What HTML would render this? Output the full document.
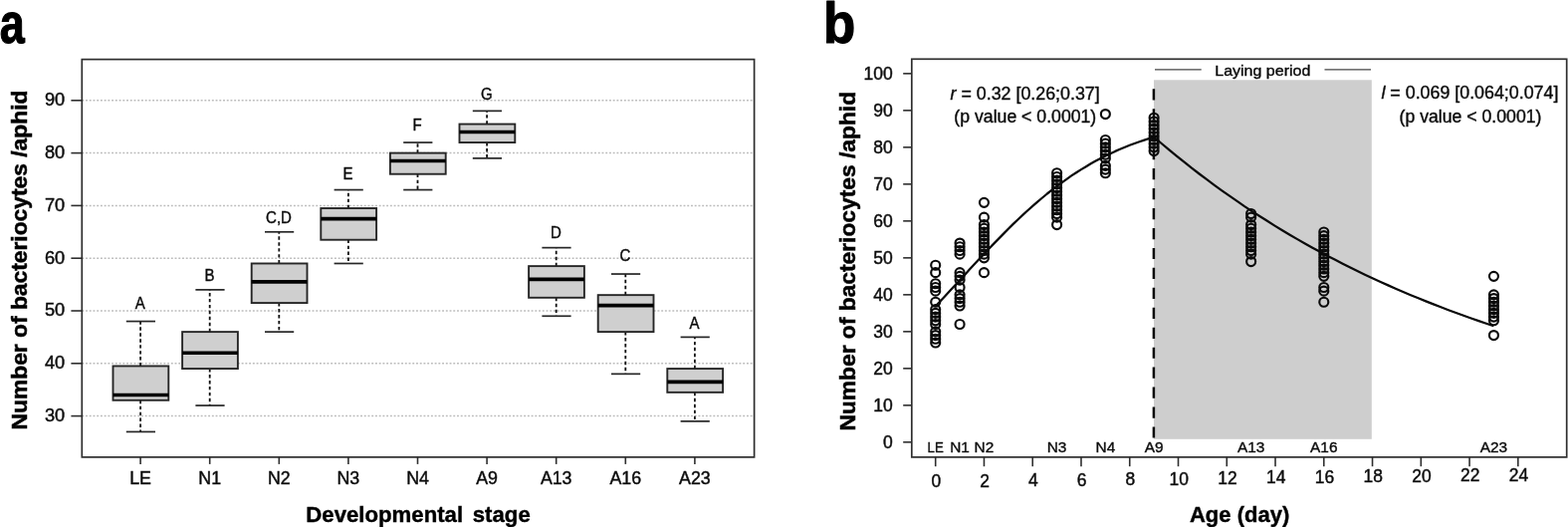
<!DOCTYPE html>
<html lang="en">
<head>
<meta charset="utf-8">
<title>Number of bacteriocytes per aphid</title>
<style>
html,body{margin:0;padding:0;background:#fff;}
body{width:1575px;height:529px;overflow:hidden;}
svg{display:block;filter:blur(0.4px);font-family:"Liberation Sans","DejaVu Sans",sans-serif;}
text{fill:#0a0a0a;}
.pl{font-weight:bold;fill:#000;stroke:#000;stroke-width:1.2px;stroke-linejoin:round;}
.pa{font-size:57.5px;}
.pb{font-size:58px;}
.grid{stroke:#bcbcbc;stroke-width:1.5;stroke-dasharray:1.9 1.83;}
.wh{stroke:#111;stroke-width:1.8;stroke-dasharray:3.4 2.55;}
.cap{stroke:#262626;stroke-width:1.7;}
.bx{fill:#cfcfcf;stroke:#262626;stroke-width:1.9;}
.med{stroke:#000;stroke-width:3.7;}
.fr{fill:none;stroke:#2e2e2e;stroke-width:1.7;}
.tk{stroke:#2e2e2e;stroke-width:1.6;}
.yl{font-size:17.5px;stroke:#111;stroke-width:0.45px;}
.xl{font-size:17.8px;stroke:#111;stroke-width:0.45px;}
.sl{font-size:15.4px;stroke:#111;stroke-width:0.4px;}
.lt{font-size:16px;stroke:#111;stroke-width:0.4px;}
.an{font-size:17.5px;stroke:#111;stroke-width:0.4px;}
.ti{font-size:22.2px;font-weight:bold;fill:#000;word-spacing:3.5px;stroke:#000;stroke-width:0.4px;}
.tb{font-size:21.8px;font-weight:bold;fill:#000;stroke:#000;stroke-width:0.4px;}
.tv{font-size:22.9px;font-weight:bold;fill:#000;stroke:#000;stroke-width:0.5px;}
.pt{fill:none;stroke:#0a0a0a;stroke-width:2.15;}
.cv{fill:none;stroke:#0a0a0a;stroke-width:2.25;stroke-linejoin:round;}
.dl{stroke:#0a0a0a;stroke-width:2.5;stroke-dasharray:11.2 8.75;}
.ln{stroke:#444;stroke-width:1.3;}
</style>
</head>
<body>
<svg width="1575" height="529" viewBox="0 0 1575 529" role="img" aria-label="Number of bacteriocytes per aphid across developmental stages">
<rect x="0" y="0" width="1575" height="529" fill="#fff"/>
<g id="panel-a">
<text class="pl pa" transform="translate(-0.2,43.2) scale(0.78,1)" text-anchor="start">a</text>
<line class="grid" x1="82.3" y1="417.6" x2="757.6" y2="417.6"/>
<line class="grid" x1="82.3" y1="364.8" x2="757.6" y2="364.8"/>
<line class="grid" x1="82.3" y1="312" x2="757.6" y2="312"/>
<line class="grid" x1="82.3" y1="259.2" x2="757.6" y2="259.2"/>
<line class="grid" x1="82.3" y1="206.4" x2="757.6" y2="206.4"/>
<line class="grid" x1="82.3" y1="153.6" x2="757.6" y2="153.6"/>
<line class="grid" x1="82.3" y1="100.8" x2="757.6" y2="100.8"/>
<line class="wh" x1="141.1" y1="367.44" x2="141.1" y2="322.56"/>
<line class="wh" x1="141.1" y1="401.76" x2="141.1" y2="433.44"/>
<line class="cap" x1="126.8" y1="322.56" x2="156" y2="322.56"/>
<line class="cap" x1="126.8" y1="433.44" x2="156" y2="433.44"/>
<rect class="bx" x="113.5" y="367.44" width="55.8" height="34.32"/>
<line class="med" x1="113.5" y1="396.48" x2="169.3" y2="396.48"/>
<text class="lt" transform="translate(140.8,309.8) scale(0.94,1)" text-anchor="middle">A</text>
<line class="wh" x1="210.7" y1="333.12" x2="210.7" y2="290.88"/>
<line class="wh" x1="210.7" y1="370.08" x2="210.7" y2="407.04"/>
<line class="cap" x1="196.4" y1="290.88" x2="225.6" y2="290.88"/>
<line class="cap" x1="196.4" y1="407.04" x2="225.6" y2="407.04"/>
<rect class="bx" x="183.1" y="333.12" width="55.8" height="36.96"/>
<line class="med" x1="183.1" y1="354.24" x2="238.9" y2="354.24"/>
<text class="lt" transform="translate(210.4,281.5) scale(0.94,1)" text-anchor="middle">B</text>
<line class="wh" x1="280.3" y1="264.48" x2="280.3" y2="232.8"/>
<line class="wh" x1="280.3" y1="304.08" x2="280.3" y2="333.12"/>
<line class="cap" x1="266" y1="232.8" x2="295.2" y2="232.8"/>
<line class="cap" x1="266" y1="333.12" x2="295.2" y2="333.12"/>
<rect class="bx" x="252.7" y="264.48" width="55.8" height="39.6"/>
<line class="med" x1="252.7" y1="282.96" x2="308.5" y2="282.96"/>
<text class="lt" transform="translate(280,223.8) scale(0.94,1)" text-anchor="middle">C,D</text>
<line class="wh" x1="349.9" y1="209.04" x2="349.9" y2="190.56"/>
<line class="wh" x1="349.9" y1="240.72" x2="349.9" y2="264.48"/>
<line class="cap" x1="335.6" y1="190.56" x2="364.8" y2="190.56"/>
<line class="cap" x1="335.6" y1="264.48" x2="364.8" y2="264.48"/>
<rect class="bx" x="322.3" y="209.04" width="55.8" height="31.68"/>
<line class="med" x1="322.3" y1="219.6" x2="378.1" y2="219.6"/>
<text class="lt" transform="translate(349.6,179.5) scale(0.94,1)" text-anchor="middle">E</text>
<line class="wh" x1="419.5" y1="153.6" x2="419.5" y2="143.04"/>
<line class="wh" x1="419.5" y1="174.72" x2="419.5" y2="190.56"/>
<line class="cap" x1="405.2" y1="143.04" x2="434.4" y2="143.04"/>
<line class="cap" x1="405.2" y1="190.56" x2="434.4" y2="190.56"/>
<rect class="bx" x="391.9" y="153.6" width="55.8" height="21.12"/>
<line class="med" x1="391.9" y1="161.52" x2="447.7" y2="161.52"/>
<text class="lt" transform="translate(419.2,131.4) scale(0.94,1)" text-anchor="middle">F</text>
<line class="wh" x1="489.1" y1="124.56" x2="489.1" y2="111.36"/>
<line class="wh" x1="489.1" y1="143.04" x2="489.1" y2="158.88"/>
<line class="cap" x1="474.8" y1="111.36" x2="504" y2="111.36"/>
<line class="cap" x1="474.8" y1="158.88" x2="504" y2="158.88"/>
<rect class="bx" x="461.5" y="124.56" width="55.8" height="18.48"/>
<line class="med" x1="461.5" y1="132.48" x2="517.3" y2="132.48"/>
<text class="lt" transform="translate(488.8,100) scale(0.94,1)" text-anchor="middle">G</text>
<line class="wh" x1="558.7" y1="267.12" x2="558.7" y2="248.64"/>
<line class="wh" x1="558.7" y1="298.8" x2="558.7" y2="317.28"/>
<line class="cap" x1="544.4" y1="248.64" x2="573.6" y2="248.64"/>
<line class="cap" x1="544.4" y1="317.28" x2="573.6" y2="317.28"/>
<rect class="bx" x="531.1" y="267.12" width="55.8" height="31.68"/>
<line class="med" x1="531.1" y1="280.32" x2="586.9" y2="280.32"/>
<text class="lt" transform="translate(558.4,238.7) scale(0.94,1)" text-anchor="middle">D</text>
<line class="wh" x1="628.3" y1="296.16" x2="628.3" y2="275.04"/>
<line class="wh" x1="628.3" y1="333.12" x2="628.3" y2="375.36"/>
<line class="cap" x1="614" y1="275.04" x2="643.2" y2="275.04"/>
<line class="cap" x1="614" y1="375.36" x2="643.2" y2="375.36"/>
<rect class="bx" x="600.7" y="296.16" width="55.8" height="36.96"/>
<line class="med" x1="600.7" y1="306.72" x2="656.5" y2="306.72"/>
<text class="lt" transform="translate(628,261.5) scale(0.94,1)" text-anchor="middle">C</text>
<line class="wh" x1="697.9" y1="370.08" x2="697.9" y2="338.4"/>
<line class="wh" x1="697.9" y1="393.84" x2="697.9" y2="422.88"/>
<line class="cap" x1="683.6" y1="338.4" x2="712.8" y2="338.4"/>
<line class="cap" x1="683.6" y1="422.88" x2="712.8" y2="422.88"/>
<rect class="bx" x="670.3" y="370.08" width="55.8" height="23.76"/>
<line class="med" x1="670.3" y1="383.28" x2="726.1" y2="383.28"/>
<text class="lt" transform="translate(697.6,329.5) scale(0.94,1)" text-anchor="middle">A</text>
<rect class="fr" x="82.3" y="59.6" width="675.3" height="399.3"/>
<line class="tk" x1="71.4" y1="417.6" x2="82.3" y2="417.6"/>
<text class="yl" transform="translate(65.2,423) scale(1.04,1)" text-anchor="end">30</text>
<line class="tk" x1="71.4" y1="364.8" x2="82.3" y2="364.8"/>
<text class="yl" transform="translate(65.2,370.2) scale(1.04,1)" text-anchor="end">40</text>
<line class="tk" x1="71.4" y1="312" x2="82.3" y2="312"/>
<text class="yl" transform="translate(65.2,317.4) scale(1.04,1)" text-anchor="end">50</text>
<line class="tk" x1="71.4" y1="259.2" x2="82.3" y2="259.2"/>
<text class="yl" transform="translate(65.2,264.6) scale(1.04,1)" text-anchor="end">60</text>
<line class="tk" x1="71.4" y1="206.4" x2="82.3" y2="206.4"/>
<text class="yl" transform="translate(65.2,211.8) scale(1.04,1)" text-anchor="end">70</text>
<line class="tk" x1="71.4" y1="153.6" x2="82.3" y2="153.6"/>
<text class="yl" transform="translate(65.2,159) scale(1.04,1)" text-anchor="end">80</text>
<line class="tk" x1="71.4" y1="100.8" x2="82.3" y2="100.8"/>
<text class="yl" transform="translate(65.2,106.2) scale(1.04,1)" text-anchor="end">90</text>
<line class="tk" x1="141.1" y1="458.9" x2="141.1" y2="465.9"/>
<text class="xl" x="141.1" y="485.6" text-anchor="middle">LE</text>
<line class="tk" x1="210.7" y1="458.9" x2="210.7" y2="465.9"/>
<text class="xl" x="210.7" y="485.6" text-anchor="middle">N1</text>
<line class="tk" x1="280.3" y1="458.9" x2="280.3" y2="465.9"/>
<text class="xl" x="280.3" y="485.6" text-anchor="middle">N2</text>
<line class="tk" x1="349.9" y1="458.9" x2="349.9" y2="465.9"/>
<text class="xl" x="349.9" y="485.6" text-anchor="middle">N3</text>
<line class="tk" x1="419.5" y1="458.9" x2="419.5" y2="465.9"/>
<text class="xl" x="419.5" y="485.6" text-anchor="middle">N4</text>
<line class="tk" x1="489.1" y1="458.9" x2="489.1" y2="465.9"/>
<text class="xl" x="489.1" y="485.6" text-anchor="middle">A9</text>
<line class="tk" x1="558.7" y1="458.9" x2="558.7" y2="465.9"/>
<text class="xl" x="558.7" y="485.6" text-anchor="middle">A13</text>
<line class="tk" x1="628.3" y1="458.9" x2="628.3" y2="465.9"/>
<text class="xl" x="628.3" y="485.6" text-anchor="middle">A16</text>
<line class="tk" x1="697.9" y1="458.9" x2="697.9" y2="465.9"/>
<text class="xl" x="697.9" y="485.6" text-anchor="middle">A23</text>
<text class="ti" x="420" y="523.6" text-anchor="middle">Developmental stage</text>
<text class="tv" transform="translate(26.9,431.4) rotate(-90)" textLength="340.8" lengthAdjust="spacingAndGlyphs">Number of bacteriocytes /aphid</text>
</g>
<g id="panel-b">
<text class="pl pb" transform="translate(827,43.3) scale(0.91,1)" text-anchor="start">b</text>
<rect x="1159" y="80.3" width="218.8" height="360.5" fill="#cecece"/>
<g class="pt">
<circle cx="939.7" cy="266.25" r="4.5"/>
<circle cx="939.7" cy="273.65" r="4.5"/>
<circle cx="939.7" cy="284.75" r="4.5"/>
<circle cx="939.7" cy="288.45" r="4.5"/>
<circle cx="939.7" cy="292.15" r="4.5"/>
<circle cx="939.7" cy="303.25" r="4.5"/>
<circle cx="939.7" cy="310.65" r="4.5"/>
<circle cx="939.7" cy="314.35" r="4.5"/>
<circle cx="939.7" cy="318.05" r="4.5"/>
<circle cx="939.7" cy="321.75" r="4.5"/>
<circle cx="939.7" cy="325.45" r="4.5"/>
<circle cx="939.7" cy="332.85" r="4.5"/>
<circle cx="939.7" cy="336.55" r="4.5"/>
<circle cx="939.7" cy="340.25" r="4.5"/>
<circle cx="939.7" cy="343.95" r="4.5"/>
</g>
<g class="pt">
<circle cx="964.08" cy="244.05" r="4.5"/>
<circle cx="964.08" cy="247.75" r="4.5"/>
<circle cx="964.08" cy="251.45" r="4.5"/>
<circle cx="964.08" cy="255.15" r="4.5"/>
<circle cx="964.08" cy="273.65" r="4.5"/>
<circle cx="964.08" cy="277.35" r="4.5"/>
<circle cx="964.08" cy="281.05" r="4.5"/>
<circle cx="964.08" cy="288.45" r="4.5"/>
<circle cx="964.08" cy="295.85" r="4.5"/>
<circle cx="964.08" cy="299.55" r="4.5"/>
<circle cx="964.08" cy="303.25" r="4.5"/>
<circle cx="964.08" cy="306.95" r="4.5"/>
<circle cx="964.08" cy="325.45" r="4.5"/>
</g>
<g class="pt">
<circle cx="988.46" cy="203.35" r="4.5"/>
<circle cx="988.46" cy="218.15" r="4.5"/>
<circle cx="988.46" cy="225.55" r="4.5"/>
<circle cx="988.46" cy="229.25" r="4.5"/>
<circle cx="988.46" cy="232.95" r="4.5"/>
<circle cx="988.46" cy="236.65" r="4.5"/>
<circle cx="988.46" cy="240.35" r="4.5"/>
<circle cx="988.46" cy="244.05" r="4.5"/>
<circle cx="988.46" cy="247.75" r="4.5"/>
<circle cx="988.46" cy="251.45" r="4.5"/>
<circle cx="988.46" cy="255.15" r="4.5"/>
<circle cx="988.46" cy="258.85" r="4.5"/>
<circle cx="988.46" cy="273.65" r="4.5"/>
</g>
<g class="pt">
<circle cx="1061.6" cy="173.75" r="4.5"/>
<circle cx="1061.6" cy="177.45" r="4.5"/>
<circle cx="1061.6" cy="181.15" r="4.5"/>
<circle cx="1061.6" cy="184.85" r="4.5"/>
<circle cx="1061.6" cy="188.55" r="4.5"/>
<circle cx="1061.6" cy="192.25" r="4.5"/>
<circle cx="1061.6" cy="195.95" r="4.5"/>
<circle cx="1061.6" cy="199.65" r="4.5"/>
<circle cx="1061.6" cy="203.35" r="4.5"/>
<circle cx="1061.6" cy="207.05" r="4.5"/>
<circle cx="1061.6" cy="210.75" r="4.5"/>
<circle cx="1061.6" cy="214.45" r="4.5"/>
<circle cx="1061.6" cy="218.15" r="4.5"/>
<circle cx="1061.6" cy="225.55" r="4.5"/>
</g>
<g class="pt">
<circle cx="1110.36" cy="114.55" r="4.5"/>
<circle cx="1110.36" cy="140.45" r="4.5"/>
<circle cx="1110.36" cy="144.15" r="4.5"/>
<circle cx="1110.36" cy="147.85" r="4.5"/>
<circle cx="1110.36" cy="151.55" r="4.5"/>
<circle cx="1110.36" cy="155.25" r="4.5"/>
<circle cx="1110.36" cy="158.95" r="4.5"/>
<circle cx="1110.36" cy="166.35" r="4.5"/>
<circle cx="1110.36" cy="170.05" r="4.5"/>
<circle cx="1110.36" cy="173.75" r="4.5"/>
</g>
<g class="pt">
<circle cx="1159.12" cy="118.25" r="4.5"/>
<circle cx="1159.12" cy="121.95" r="4.5"/>
<circle cx="1159.12" cy="125.65" r="4.5"/>
<circle cx="1159.12" cy="129.35" r="4.5"/>
<circle cx="1159.12" cy="133.05" r="4.5"/>
<circle cx="1159.12" cy="136.75" r="4.5"/>
<circle cx="1159.12" cy="140.45" r="4.5"/>
<circle cx="1159.12" cy="144.15" r="4.5"/>
<circle cx="1159.12" cy="147.85" r="4.5"/>
<circle cx="1159.12" cy="151.55" r="4.5"/>
</g>
<g class="pt">
<circle cx="1256.64" cy="214.45" r="4.5"/>
<circle cx="1256.64" cy="218.15" r="4.5"/>
<circle cx="1256.64" cy="225.55" r="4.5"/>
<circle cx="1256.64" cy="229.25" r="4.5"/>
<circle cx="1256.64" cy="232.95" r="4.5"/>
<circle cx="1256.64" cy="236.65" r="4.5"/>
<circle cx="1256.64" cy="240.35" r="4.5"/>
<circle cx="1256.64" cy="244.05" r="4.5"/>
<circle cx="1256.64" cy="247.75" r="4.5"/>
<circle cx="1256.64" cy="251.45" r="4.5"/>
<circle cx="1256.64" cy="255.15" r="4.5"/>
<circle cx="1256.64" cy="262.55" r="4.5"/>
</g>
<g class="pt">
<circle cx="1329.78" cy="232.95" r="4.5"/>
<circle cx="1329.78" cy="236.65" r="4.5"/>
<circle cx="1329.78" cy="240.35" r="4.5"/>
<circle cx="1329.78" cy="244.05" r="4.5"/>
<circle cx="1329.78" cy="247.75" r="4.5"/>
<circle cx="1329.78" cy="251.45" r="4.5"/>
<circle cx="1329.78" cy="255.15" r="4.5"/>
<circle cx="1329.78" cy="258.85" r="4.5"/>
<circle cx="1329.78" cy="262.55" r="4.5"/>
<circle cx="1329.78" cy="266.25" r="4.5"/>
<circle cx="1329.78" cy="269.95" r="4.5"/>
<circle cx="1329.78" cy="273.65" r="4.5"/>
<circle cx="1329.78" cy="277.35" r="4.5"/>
<circle cx="1329.78" cy="288.45" r="4.5"/>
<circle cx="1329.78" cy="292.15" r="4.5"/>
<circle cx="1329.78" cy="303.25" r="4.5"/>
</g>
<g class="pt">
<circle cx="1500.44" cy="277.35" r="4.5"/>
<circle cx="1500.44" cy="295.85" r="4.5"/>
<circle cx="1500.44" cy="299.55" r="4.5"/>
<circle cx="1500.44" cy="303.25" r="4.5"/>
<circle cx="1500.44" cy="306.95" r="4.5"/>
<circle cx="1500.44" cy="310.65" r="4.5"/>
<circle cx="1500.44" cy="314.35" r="4.5"/>
<circle cx="1500.44" cy="318.05" r="4.5"/>
<circle cx="1500.44" cy="321.75" r="4.5"/>
<circle cx="1500.44" cy="336.55" r="4.5"/>
</g>
<path class="cv" d="M939.7,307.3 L944.6,302.2 L949.5,297.0 L954.3,291.7 L959.2,286.4 L964.1,281.2 L969.0,275.9 L973.8,270.6 L978.7,265.3 L983.6,260.1 L988.5,254.9 L993.3,249.7 L998.2,244.6 L1003.1,239.6 L1008.0,234.6 L1012.8,229.7 L1017.7,224.9 L1022.6,220.2 L1027.5,215.7 L1032.3,211.2 L1037.2,206.8 L1042.1,202.6 L1047.0,198.5 L1051.8,194.5 L1056.7,190.6 L1061.6,186.9 L1066.5,183.3 L1071.4,179.8 L1076.2,176.4 L1081.1,173.2 L1086.0,170.1 L1090.9,167.2 L1095.7,164.3 L1100.6,161.6 L1105.5,159.0 L1110.4,156.6 L1115.2,154.2 L1120.1,151.9 L1125.0,149.8 L1129.9,147.8 L1134.7,145.8 L1139.6,144.0 L1144.5,142.2 L1149.4,140.6 L1154.2,139.0 L1159.1,137.5 L1166.7,144.0 L1174.3,150.4 L1181.9,156.6 L1189.5,162.7 L1197.0,168.7 L1204.6,174.5 L1212.2,180.2 L1219.8,185.8 L1227.4,191.3 L1235.0,196.7 L1242.6,201.9 L1250.1,207.1 L1257.7,212.1 L1265.3,217.0 L1272.9,221.8 L1280.5,226.6 L1288.1,231.2 L1295.6,235.7 L1303.2,240.1 L1310.8,244.4 L1318.4,248.7 L1326.0,252.8 L1333.6,256.9 L1341.2,260.8 L1348.7,264.7 L1356.3,268.5 L1363.9,272.3 L1371.5,275.9 L1379.1,279.5 L1386.7,283.0 L1394.3,286.4 L1401.8,289.7 L1409.4,293.0 L1417.0,296.2 L1424.6,299.3 L1432.2,302.4 L1439.8,305.4 L1447.3,308.3 L1454.9,311.2 L1462.5,314.0 L1470.1,316.8 L1477.7,319.5 L1485.3,322.1 L1492.9,324.7 L1500.4,327.3"/>
<line class="dl" x1="1158.9" y1="89.3" x2="1158.9" y2="439.4"/>
<rect class="fr" x="915.8" y="59.3" width="657.9" height="399.6"/>
<line class="tk" x1="907.2" y1="443.85" x2="915.8" y2="443.85"/>
<text class="yl" x="896.8" y="449.75" text-anchor="end">0</text>
<line class="tk" x1="907.2" y1="406.85" x2="915.8" y2="406.85"/>
<text class="yl" x="896.8" y="412.75" text-anchor="end">10</text>
<line class="tk" x1="907.2" y1="369.85" x2="915.8" y2="369.85"/>
<text class="yl" x="896.8" y="375.75" text-anchor="end">20</text>
<line class="tk" x1="907.2" y1="332.85" x2="915.8" y2="332.85"/>
<text class="yl" x="896.8" y="338.75" text-anchor="end">30</text>
<line class="tk" x1="907.2" y1="295.85" x2="915.8" y2="295.85"/>
<text class="yl" x="896.8" y="301.75" text-anchor="end">40</text>
<line class="tk" x1="907.2" y1="258.85" x2="915.8" y2="258.85"/>
<text class="yl" x="896.8" y="264.75" text-anchor="end">50</text>
<line class="tk" x1="907.2" y1="221.85" x2="915.8" y2="221.85"/>
<text class="yl" x="896.8" y="227.75" text-anchor="end">60</text>
<line class="tk" x1="907.2" y1="184.85" x2="915.8" y2="184.85"/>
<text class="yl" x="896.8" y="190.75" text-anchor="end">70</text>
<line class="tk" x1="907.2" y1="147.85" x2="915.8" y2="147.85"/>
<text class="yl" x="896.8" y="153.75" text-anchor="end">80</text>
<line class="tk" x1="907.2" y1="110.85" x2="915.8" y2="110.85"/>
<text class="yl" x="896.8" y="116.75" text-anchor="end">90</text>
<line class="tk" x1="907.2" y1="73.85" x2="915.8" y2="73.85"/>
<text class="yl" x="896.8" y="79.75" text-anchor="end">100</text>
<line class="tk" x1="939.7" y1="458.9" x2="939.7" y2="468.2"/>
<text class="xl" transform="translate(940.4,489.2) scale(0.98,1)" text-anchor="middle">0</text>
<line class="tk" x1="988.46" y1="458.9" x2="988.46" y2="468.2"/>
<text class="xl" transform="translate(989.16,488.67) scale(0.98,1)" text-anchor="middle">2</text>
<line class="tk" x1="1037.22" y1="458.9" x2="1037.22" y2="468.2"/>
<text class="xl" transform="translate(1037.92,488.14) scale(0.98,1)" text-anchor="middle">4</text>
<line class="tk" x1="1085.98" y1="458.9" x2="1085.98" y2="468.2"/>
<text class="xl" transform="translate(1086.68,487.61) scale(0.98,1)" text-anchor="middle">6</text>
<line class="tk" x1="1134.74" y1="458.9" x2="1134.74" y2="468.2"/>
<text class="xl" transform="translate(1135.44,487.08) scale(0.98,1)" text-anchor="middle">8</text>
<line class="tk" x1="1183.5" y1="458.9" x2="1183.5" y2="468.2"/>
<text class="xl" transform="translate(1184.2,486.55) scale(0.98,1)" text-anchor="middle">10</text>
<line class="tk" x1="1232.26" y1="458.9" x2="1232.26" y2="468.2"/>
<text class="xl" transform="translate(1232.96,486.02) scale(0.98,1)" text-anchor="middle">12</text>
<line class="tk" x1="1281.02" y1="458.9" x2="1281.02" y2="468.2"/>
<text class="xl" transform="translate(1281.72,485.49) scale(0.98,1)" text-anchor="middle">14</text>
<line class="tk" x1="1329.78" y1="458.9" x2="1329.78" y2="468.2"/>
<text class="xl" transform="translate(1330.48,484.96) scale(0.98,1)" text-anchor="middle">16</text>
<line class="tk" x1="1378.54" y1="458.9" x2="1378.54" y2="468.2"/>
<text class="xl" transform="translate(1379.24,484.43) scale(0.98,1)" text-anchor="middle">18</text>
<line class="tk" x1="1427.3" y1="458.9" x2="1427.3" y2="468.2"/>
<text class="xl" transform="translate(1428,483.9) scale(0.98,1)" text-anchor="middle">20</text>
<line class="tk" x1="1476.06" y1="458.9" x2="1476.06" y2="468.2"/>
<text class="xl" transform="translate(1476.76,483.37) scale(0.98,1)" text-anchor="middle">22</text>
<line class="tk" x1="1524.82" y1="458.9" x2="1524.82" y2="468.2"/>
<text class="xl" transform="translate(1525.52,482.84) scale(0.98,1)" text-anchor="middle">24</text>
<text class="sl" transform="translate(939.7,454.4) scale(0.86,1)" text-anchor="middle">LE</text>
<text class="sl" x="964.08" y="454.4" text-anchor="middle">N1</text>
<text class="sl" x="988.46" y="454.4" text-anchor="middle">N2</text>
<text class="sl" x="1061.6" y="454.4" text-anchor="middle">N3</text>
<text class="sl" x="1110.36" y="454.4" text-anchor="middle">N4</text>
<text class="sl" x="1159.12" y="454.4" text-anchor="middle">A9</text>
<text class="sl" x="1256.64" y="454.4" text-anchor="middle">A13</text>
<text class="sl" x="1329.78" y="454.4" text-anchor="middle">A16</text>
<text class="sl" x="1500.44" y="454.4" text-anchor="middle">A23</text>
<text class="tb" transform="translate(1245.1,523.9) scale(1.01,1)" text-anchor="middle">Age (day)</text>
<text class="tv" transform="translate(858.9,432.6) rotate(-90)" textLength="340.7" lengthAdjust="spacingAndGlyphs">Number of bacteriocytes /aphid</text>
<text class="an" transform="translate(1029.6,99.8) scale(1.02,1)" text-anchor="middle"><tspan font-style="italic">r</tspan> = 0.32 [0.26;0.37]</text>
<text class="an" transform="translate(1029.8,123.3) scale(1.01,1)" text-anchor="middle">(p value &lt; 0.0001)</text>
<text class="an" transform="translate(1476.4,99) scale(1.02,1)" text-anchor="middle"><tspan font-style="italic">l</tspan> = 0.069 [0.064;0.074]</text>
<text class="an" transform="translate(1477,122.8) scale(1.01,1)" text-anchor="middle">(p value &lt; 0.0001)</text>
<text class="sl" transform="translate(1268.3,75.6) scale(1.04,1)" text-anchor="middle">Laying period</text>
<line class="ln" x1="1160" y1="69.9" x2="1206.7" y2="69.9"/>
<line class="ln" x1="1330.5" y1="69.9" x2="1377" y2="69.9"/>
</g>
</svg>
</body>
</html>
